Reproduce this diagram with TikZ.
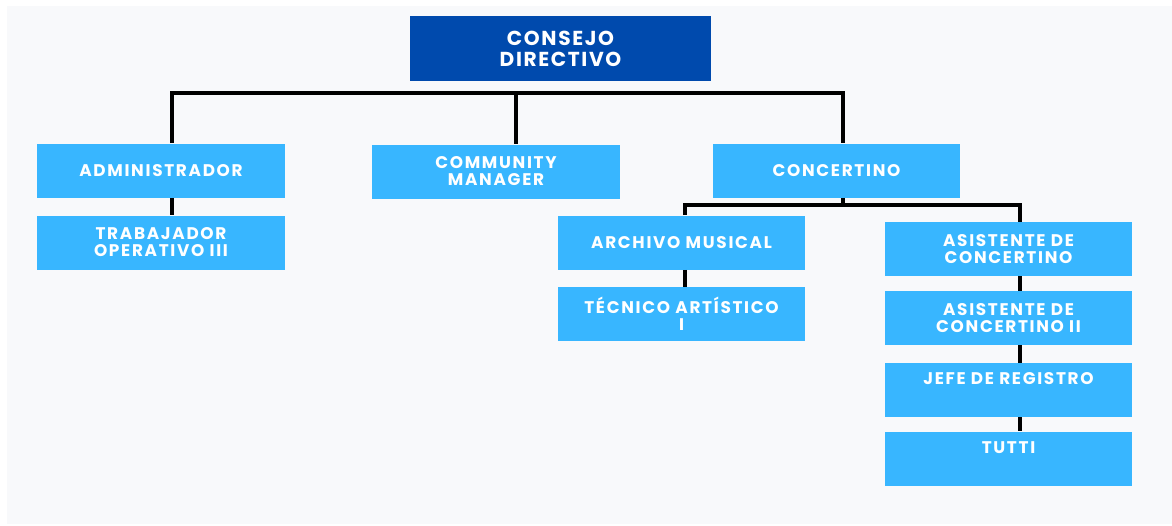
\documentclass[tikz,border=0pt]{standalone}
\usepackage{fontspec}
\newfontfamily\boxfont[LetterSpace=10]{Poppins}
\newfontfamily\headfont[LetterSpace=8]{Poppins}
\usetikzlibrary{positioning}

\definecolor{pagebg}{HTML}{F8F9FB}
\definecolor{darkblue}{HTML}{004AAD}
\definecolor{lightblue}{HTML}{38B6FF}

\begin{document}
\begin{tikzpicture}[x=0.02cm, y=-0.02cm,
	box/.style={fill=lightblue, text=white, align=center, inner sep=0pt,
		minimum width=4.96cm, minimum height=1.08cm,
		font=\boxfont\bfseries\fontsize{9.6}{9.7}\selectfont},
	headbox/.style={box, fill=darkblue, minimum width=6.02cm, minimum height=1.3cm,
		font=\headfont\bfseries\fontsize{11.5}{12}\selectfont},
	conn/.style={line width=2.8pt, black}]

\def\stub{\\ \strut}

% BACKGROUND
\useasboundingbox (0,0) rectangle (1172,525);
\fill [pagebg] (7,6) rectangle (1172,524);

% BOXES
\node [headbox] (consejo) at (560.5,48.5) {CONSEJO\\DIRECTIVO};

\node [box] (admin) at (161,170.5) {ADMINISTRADOR};
\node [box] (trabajador) at (161,242.5) {TRABAJADOR\\OPERATIVO III};
\node [box] (community) at (496,171.5) {COMMUNITY\\MANAGER};
\node [box] (concertino) at (836.5,170.5) {CONCERTINO};

\node [box] (archivo) at (681.5,242.5) {ARCHIVO MUSICAL};
\node [box] (tecnico) at (681.5,314) {TÉCNICO ARTÍSTICO\\I};

\node [box] (asist) at (1008.5,249) {ASISTENTE DE\\CONCERTINO};
\node [box] (asistdos) at (1008.5,318) {ASISTENTE DE\\CONCERTINO II};
\node [box] (jefe) at (1008.5,390) {JEFE DE REGISTRO\stub};
\node [box] (tutti) at (1008.5,458.5) {TUTTI\stub};

% CONNECTORS
\coordinate (barL) at (172,93);
\coordinate (barM) at (516,93);
\coordinate (barR) at (843,93);
\coordinate (subL) at (685,205);
\coordinate (subM) at (843,205);
\coordinate (subR) at (1020,205);

\draw [conn] (admin.north -| barL) -- (barL) -- (barR) -- (concertino.north -| barR);
\draw [conn] (barM) -- (community.north -| barM);
\draw [conn] (admin.south -| barL) -- (trabajador.north -| barL);

\draw [conn] (concertino.south -| subM) -- (subM);
\draw [conn] (archivo.north -| subL) -- (subL) -- (subR) -- (asist.north -| subR);
\draw [conn] (archivo.south -| subL) -- (tecnico.north -| subL);
\draw [conn] (asist.south -| subR) -- (asistdos.north -| subR);
\draw [conn] (asistdos.south -| subR) -- (jefe.north -| subR);
\draw [conn] (jefe.south -| subR) -- (tutti.north -| subR);

\end{tikzpicture}
\end{document}
